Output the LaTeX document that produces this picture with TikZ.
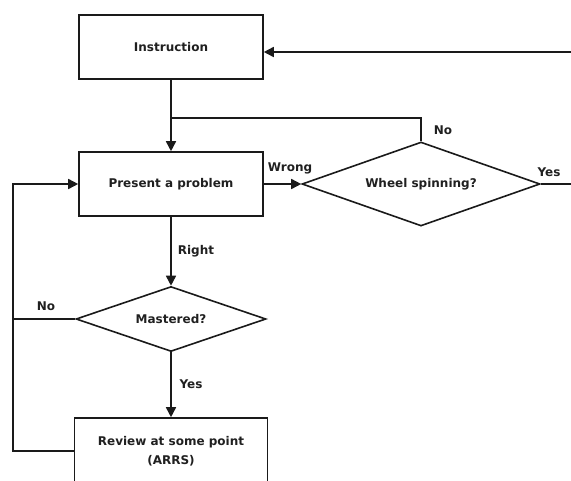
\documentclass[tikz,border=0pt]{standalone}
\usepackage{fontspec}
\setmainfont{DejaVu Sans}
\usetikzlibrary{shapes.geometric,arrows.meta,positioning,calc}
\definecolor{inkline}{HTML}{1A1A1A}
\definecolor{inktext}{HTML}{202020}
\tikzset{
  stepbox/.style={draw=inkline, line width=1.6pt, fill=white, inner sep=0pt, align=center, text=inktext},
  askbox/.style={draw=inkline, line width=1.6pt, fill=white, diamond, inner sep=0pt, text=inktext},
  flow/.style={draw=inkline, line width=1.6pt, -{Triangle[length=10pt,width=10pt]}},
  plain/.style={draw=inkline, line width=1.6pt},
  lbl/.style={text=inktext, inner sep=0pt}
}

\begin{document}
\begin{tikzpicture}[x=1pt, y=-1pt, font=\fontsize{12}{19}\selectfont\bfseries]
\useasboundingbox (0,0) rectangle (571,480);

\node[stepbox, minimum width=184pt, minimum height=64pt] (instr) at (171,47) {Instruction};
\node[stepbox, minimum width=184pt, minimum height=64pt] (present) at (171,184) {Present a problem};
\node[askbox, minimum width=238pt, minimum height=84pt, aspect=2.83] (wheel) at (421,184) {Wheel spinning?};
\node[askbox, minimum width=190pt, minimum height=65pt, aspect=2.92] (mastered) at (171,319) {Mastered?};
\node[stepbox, minimum width=193pt, minimum height=66pt] (review) at (171,451) {Review at some point\\(ARRS)};

\coordinate (join) at (171,118);
\coordinate (back) at (571,52);
\coordinate (yesend) at (571,184);
\coordinate (lx) at (13,0);

\draw[flow] (instr) -- (present);
\draw[plain] (wheel.north) |- (join);
\draw[flow] (back) -- (back -| instr.east);
\draw[flow] (present) -- (wheel);
\draw[plain] (wheel.east) -- (yesend);
\draw[flow] (present) -- (mastered);
\draw[flow] (mastered) -- (review);
\draw[plain] (mastered.west) -- (mastered.west -| lx);
\draw[flow] (review.west) -- (review.west -| lx) -- (present.west -| lx) -- (present.west);

\node[lbl] (lwrong) at (290,168) {Wrong};
\node[lbl] (lno1) at (443,130) {No};
\node[lbl] (lyes1) at (549,172) {Yes};
\node[lbl] (lright) at (196,251) {Right};
\node[lbl] (lno2) at (46,306) {No};
\node[lbl] (lyes2) at (191,384) {Yes};
\end{tikzpicture}
\end{document}
